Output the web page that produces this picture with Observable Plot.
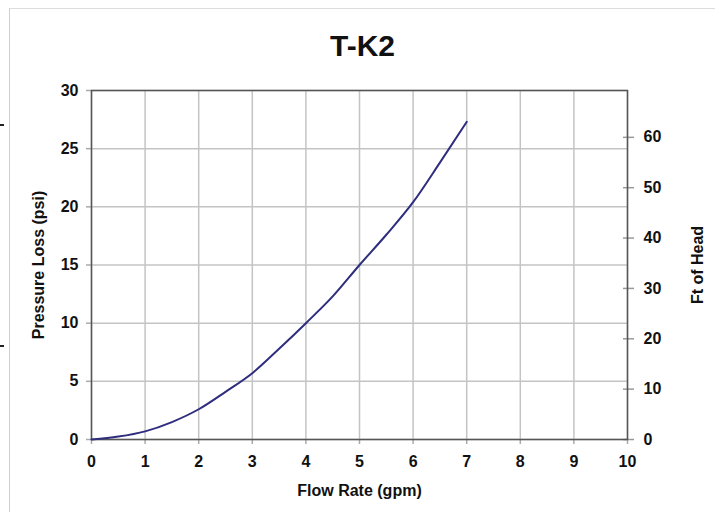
<!DOCTYPE html>
<html>
<head>
<meta charset="utf-8">
<script src="https://cdn.jsdelivr.net/npm/d3@7"></script>
<script src="https://cdn.jsdelivr.net/npm/@observablehq/plot@0.6"></script>
<style>
  html, body { margin: 0; padding: 0; background: #fff; }
  #wrap { position: relative; width: 715px; height: 512px; overflow: hidden; font-family: "Liberation Sans", Arial, sans-serif; }
  #border { position: absolute; left: 9px; top: 8px; width: 720px; height: 520px; border-left: 1.5px solid #cfcfcf; border-top: 1.5px solid #dcdcdc; }
  .nick { position: absolute; left: 0; width: 4px; height: 2px; background: #222; }
  #title { position: absolute; left: 0; width: 725px; top: 31px; text-align: center; font-size: 30px; font-weight: bold; line-height: 30px; color: #111; }
  #chart { position: absolute; left: 0; top: 0; }
</style>
</head>
<body>
<div id="wrap">
  <div id="border"></div>
  <div class="nick" style="top:124px"></div>
  <div class="nick" style="top:345px"></div>
  <div id="chart"></div>
  <div id="title">T-K2</div>
</div>
<script>
// Flow rate (gpm) and pressure loss (psi)
const flow = [0, 0.5, 1, 1.5, 2, 2.5, 3, 3.5, 4, 4.5, 5, 5.5, 6, 6.5, 7];
const psi  = [0, 0.25, 0.7, 1.5, 2.6, 4.1, 5.7, 7.8, 10.0, 12.3, 15.0, 17.6, 20.4, 23.8, 27.3];
const xTicks = [0, 1, 2, 3, 4, 5, 6, 7, 8, 9, 10];
const yTicks = [0, 5, 10, 15, 20, 25, 30];
const ftTicks = [0, 10, 20, 30, 40, 50, 60];
const ftPerPsi = 2.31;

const data = flow.map((f, i) => ({flow: f, psi: psi[i]}));
const ftPos = ftTicks.map(f => f / ftPerPsi);

const tickFont = {fontSize: 16, fontWeight: "bold", fill: "#111"};

const chart = Plot.plot({
  width: 715,
  height: 512,
  marginTop: 90,
  marginBottom: 73,
  marginLeft: 91,
  marginRight: 88,
  style: {fontFamily: "'Liberation Sans', Arial, sans-serif", background: "transparent", overflow: "visible"},
  x: {domain: [0, 10]},
  y: {domain: [0, 30]},
  marks: [
    Plot.gridX(xTicks, {stroke: "#c4c4c4", strokeOpacity: 1, strokeWidth: 1.5}),
    Plot.gridY(yTicks, {stroke: "#c4c4c4", strokeOpacity: 1, strokeWidth: 1.5}),
    Plot.axisX(xTicks, {tickSize: 5, tickPadding: 11, stroke: "#aaa", strokeWidth: 1.5, ...tickFont, tickFormat: d => d, label: null}),
    Plot.axisX({tickSize: 0, fontSize: 16, fontWeight: "bold", fill: "#111", ticks: [], label: "Flow Rate (gpm)",
      labelAnchor: "center", labelArrow: "none", labelOffset: 56}),
    Plot.axisY(yTicks, {anchor: "left", tickSize: 5, tickPadding: 8, stroke: "#aaa", strokeWidth: 1.5, ...tickFont, tickFormat: d => d, label: null}),
    Plot.axisY({anchor: "left", tickSize: 0, ticks: [], fontSize: 16, fontWeight: "bold", fill: "#111",
      label: "Pressure Loss (psi)", labelAnchor: "center", labelArrow: "none", labelOffset: 59}),
    Plot.axisY(ftPos, {anchor: "right", tickSize: 6, tickPadding: 10, stroke: "#999", strokeWidth: 1.5, ...tickFont,
      tickFormat: (d, i) => ftTicks[i], label: null}),
    Plot.axisY({anchor: "right", tickSize: 0, ticks: [], fontSize: 16, fontWeight: "bold", fill: "#111",
      label: "Ft of Head", labelAnchor: "center", labelArrow: "none", labelOffset: 75}),
    Plot.axisY(ftPos, {anchor: "right", tickSize: 5, dx: -5, stroke: "#999", strokeWidth: 1.5, tickFormat: () => "", label: null}),
    Plot.frame({stroke: "#555", strokeWidth: 1.5}),
    Plot.line(data, {x: "flow", y: "psi", stroke: "#2e2d7e", strokeWidth: 2, curve: "monotone-x"})
  ]
});
document.getElementById("chart").appendChild(chart);
</script>
</body>
</html>
